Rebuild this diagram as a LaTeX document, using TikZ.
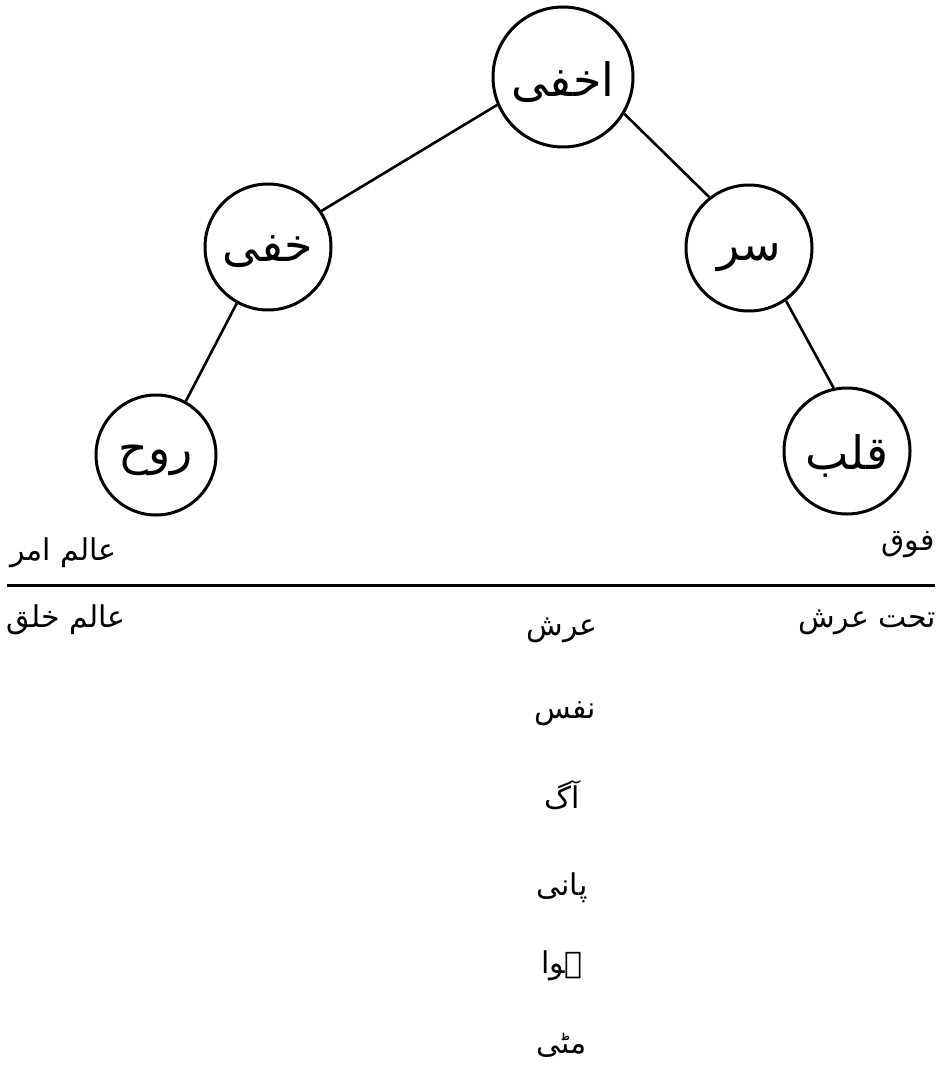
\documentclass[tikz,border=0pt]{standalone}
\usepackage{fontspec}
\newfontfamily\ur[Script=Arabic]{DejaVu Sans}
\TeXXeTstate=1
\begin{document}
\begin{tikzpicture}[x=1pt,y=-1pt,
  ring/.style={draw,circle,line width=3pt,inner sep=0pt},
  ringtext/.style={font=\ur\fontsize{46}{52}\selectfont},
  lbl/.style={font=\ur\fontsize{30}{36}\selectfont,inner sep=0pt},
  link/.style={line width=2.6pt}]
\useasboundingbox (0,0) rectangle (939,1073);
\node[ring,minimum size=140pt] (akhfa) at (563,77) {};
\node[ring,minimum size=126pt] (khafi) at (268,247) {};
\node[ring,minimum size=126pt] (sirr) at (749,248) {};
\node[ring,minimum size=120pt] (ruh) at (156,455) {};
\node[ring,minimum size=126pt] (qalb) at (847,451) {};
\node[ringtext] (takhfa) at ([yshift=-5pt]akhfa.center) {\beginR اخفی\endR};
\node[ringtext] (tkhafi) at ([yshift=-5pt]khafi.center) {\beginR خفی\endR};
\node[ringtext] (tsirr) at ([yshift=-10pt]sirr.center) {\beginR سر\endR};
\node[ringtext] (truh) at ([yshift=-5pt]ruh.center) {\beginR روح\endR};
\node[ringtext] (tqalb) at ([yshift=-5pt]qalb.center) {\beginR قلب\endR};
\draw[link] (akhfa.203) -- (khafi.34);
\draw[link] (akhfa.-31) -- (sirr.128);
\draw[link] (khafi.241) -- (ruh.61);
\draw[link] (sirr.-55) -- (qalb.102);
\coordinate (ll) at (7,585);
\coordinate (lr) at (935,585);
\draw[line width=3pt] (ll) -- (lr);
\node[lbl,anchor=west] (amr) at (10,553) {\beginR عالم امر\endR};
\node[lbl,anchor=east] (fauq) at (935,545) {\beginR فوق\endR};
\node[lbl,anchor=west] (khalq) at (6,620) {\beginR عالم خلق\endR};
\node[lbl] (arsh) at (562,630) {\beginR عرش\endR};
\node[lbl,anchor=east] (taht) at (936,622) {\beginR تحت عرش\endR};
\node[lbl] (nafs) at (565,714) {\beginR نفس\endR};
\node[lbl] (aag) at (562,795) {\beginR آگ\endR};
\node[lbl] (pani) at (562,888) {\beginR پانی\endR};
\node[lbl] (hawa) at (562,966) {\beginR ہوا\endR};
\node[lbl] (matti) at (562,1045) {\beginR مٹی\endR};
\end{tikzpicture}
\end{document}
